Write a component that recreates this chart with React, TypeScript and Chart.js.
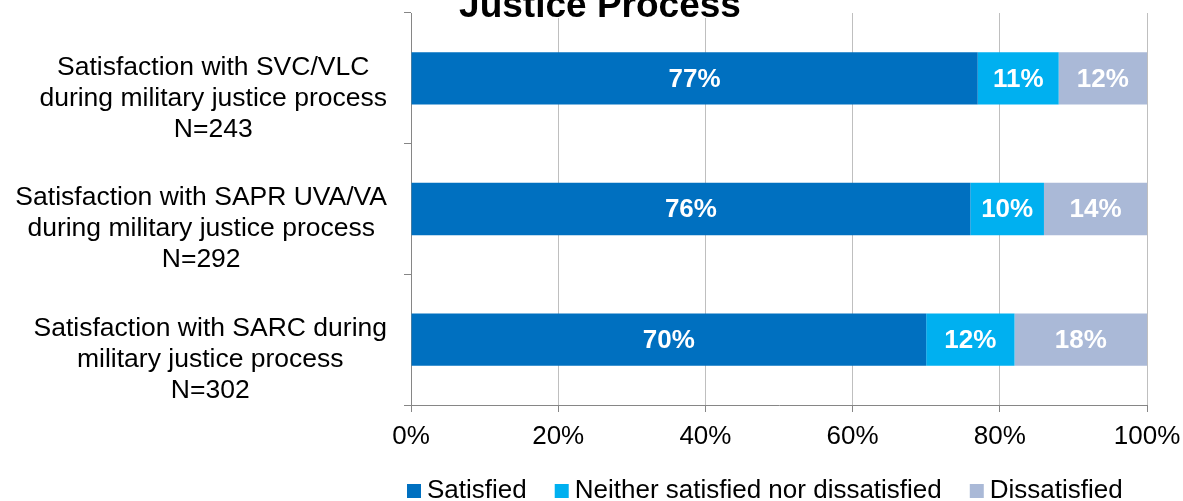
import React, { useEffect, useRef } from 'react';
import { Chart, registerables } from 'chart.js';

Chart.register(...registerables);

const FONT = "'Liberation Sans', Arial, Helvetica, sans-serif";

const categories: string[][] = [
  ['Satisfaction with SVC/VLC', 'during military justice process', 'N=243'],
  ['Satisfaction with SAPR UVA/VA', 'during military justice process', 'N=292'],
  ['Satisfaction with SARC during', 'military justice process', 'N=302'],
];
const satisfied = [77, 76, 70];
const neither = [11, 10, 12];
const dissatisfied = [12, 14, 18];
const seriesNames = ['Satisfied', 'Neither satisfied nor dissatisfied', 'Dissatisfied'];
const seriesColors = ['#0070C0', '#00B0F0', '#AAB9D7'];
const xTickMin = 0;
const xTickMax = 100;
const xTickStep = 20;
const titleLines = ['Satisfaction with Support During the Military', 'Justice Process'];

const customPlugin = {
  id: 'customDraw',
  afterDatasetsDraw(chart: any) {
    const ctx = chart.ctx as CanvasRenderingContext2D;
    ctx.save();
    ctx.font = `bold 26px ${FONT}`;
    ctx.fillStyle = '#FFFFFF';
    ctx.textAlign = 'center';
    ctx.textBaseline = 'middle';
    chart.data.datasets.forEach((ds: any, di: number) => {
      const meta = chart.getDatasetMeta(di);
      meta.data.forEach((el: any, i: number) => {
        const p = el.getProps(['x', 'y', 'base'], true);
        ctx.fillText(ds.data[i] + '%', (p.x + p.base) / 2, p.y + 1);
      });
    });
    ctx.restore();
  },
  afterDraw(chart: any) {
    const ctx = chart.ctx as CanvasRenderingContext2D;
    const area = chart.chartArea;
    const yScale = chart.scales.y;
    ctx.save();

    // Category labels (block right-aligned, lines centered within block)
    ctx.font = `26.5px ${FONT}`;
    ctx.fillStyle = '#000000';
    ctx.textAlign = 'center';
    ctx.textBaseline = 'middle';
    const rightEdge = area.left - 24;
    categories.forEach((lines, i) => {
      const cy = yScale.getPixelForTick(i);
      const widest = Math.max(...lines.map((l) => ctx.measureText(l).width));
      const cx = rightEdge - widest / 2;
      lines.forEach((l, j) => ctx.fillText(l, cx, cy - 11 + j * 31));
    });

    // Title
    ctx.font = `bold 37px ${FONT}`;
    const titleX = 600;
    const baseY = 17;
    const lastW = ctx.measureText(titleLines[titleLines.length - 1]).width;
    ctx.fillStyle = '#FFFFFF';
    ctx.fillRect(titleX - lastW / 2 - 4, 0, lastW + 8, baseY + 1);
    ctx.fillStyle = '#000000';
    ctx.textAlign = 'center';
    ctx.textBaseline = 'alphabetic';
    titleLines.forEach((t, j) => {
      ctx.fillText(t, titleX, baseY - (titleLines.length - 1 - j) * 44);
    });

    // Legend
    ctx.font = `26px ${FONT}`;
    ctx.textAlign = 'left';
    ctx.textBaseline = 'alphabetic';
    let x = area.left - 4;
    const boxTop = 484;
    const box = 14;
    seriesNames.forEach((name, i) => {
      ctx.fillStyle = seriesColors[i];
      ctx.fillRect(x, boxTop, box, box);
      ctx.fillStyle = '#000000';
      ctx.fillText(name, x + box + 6, 498);
      x += box + 6 + ctx.measureText(name).width + 28;
    });

    ctx.restore();
  },
};

export default function App() {
  const canvasRef = useRef<HTMLCanvasElement | null>(null);

  useEffect(() => {
    document.body.style.margin = '0';
    const canvas = canvasRef.current;
    if (!canvas) return;
    const chart = new Chart(canvas, {
      type: 'bar',
      data: {
        labels: categories.map((c) => c.join(' ')),
        datasets: [
          { label: seriesNames[0], data: satisfied, backgroundColor: seriesColors[0] },
          { label: seriesNames[1], data: neither, backgroundColor: seriesColors[1] },
          { label: seriesNames[2], data: dissatisfied, backgroundColor: seriesColors[2] },
        ].map((d) => ({ ...d, borderWidth: 0, barPercentage: 0.4, categoryPercentage: 1.0 })),
      },
      options: {
        indexAxis: 'y',
        responsive: false,
        animation: false,
        devicePixelRatio: 1,
        layout: { padding: { left: 0, right: 36, top: 13, bottom: 46 } },
        plugins: {
          legend: { display: false },
          title: { display: false },
          tooltip: { enabled: false },
        },
        scales: {
          x: {
            stacked: true,
            min: xTickMin,
            max: xTickMax,
            ticks: {
              stepSize: xTickStep,
              callback: (v: any) => v + '%',
              font: { size: 26, family: FONT },
              color: '#000000',
              padding: 9,
              maxRotation: 0,
            },
            grid: { color: '#BFBFBF', tickColor: '#868686', tickLength: 7, lineWidth: 1 },
            border: { color: '#868686', width: 1 },
            afterFit: (s: any) => {
              s.height = 50;
              s.paddingLeft = 0;
              s.paddingRight = 0;
            },
          },
          y: {
            stacked: true,
            ticks: { display: false },
            grid: { drawOnChartArea: false, offset: true, tickLength: 7, tickColor: '#868686' },
            border: { color: '#868686', width: 1 },
            afterFit: (s: any) => {
              s.width = 411;
              s.paddingTop = 0;
              s.paddingBottom = 0;
            },
          },
        },
      } as any,
      plugins: [customPlugin],
    });
    return () => chart.destroy();
  }, []);

  return (
    <div style={{ position: 'fixed', left: 0, top: 0, width: 1183, height: 501, background: '#fff' }}>
      <canvas ref={canvasRef} width={1183} height={501} style={{ width: 1183, height: 501, display: 'block' }} />
    </div>
  );
}
